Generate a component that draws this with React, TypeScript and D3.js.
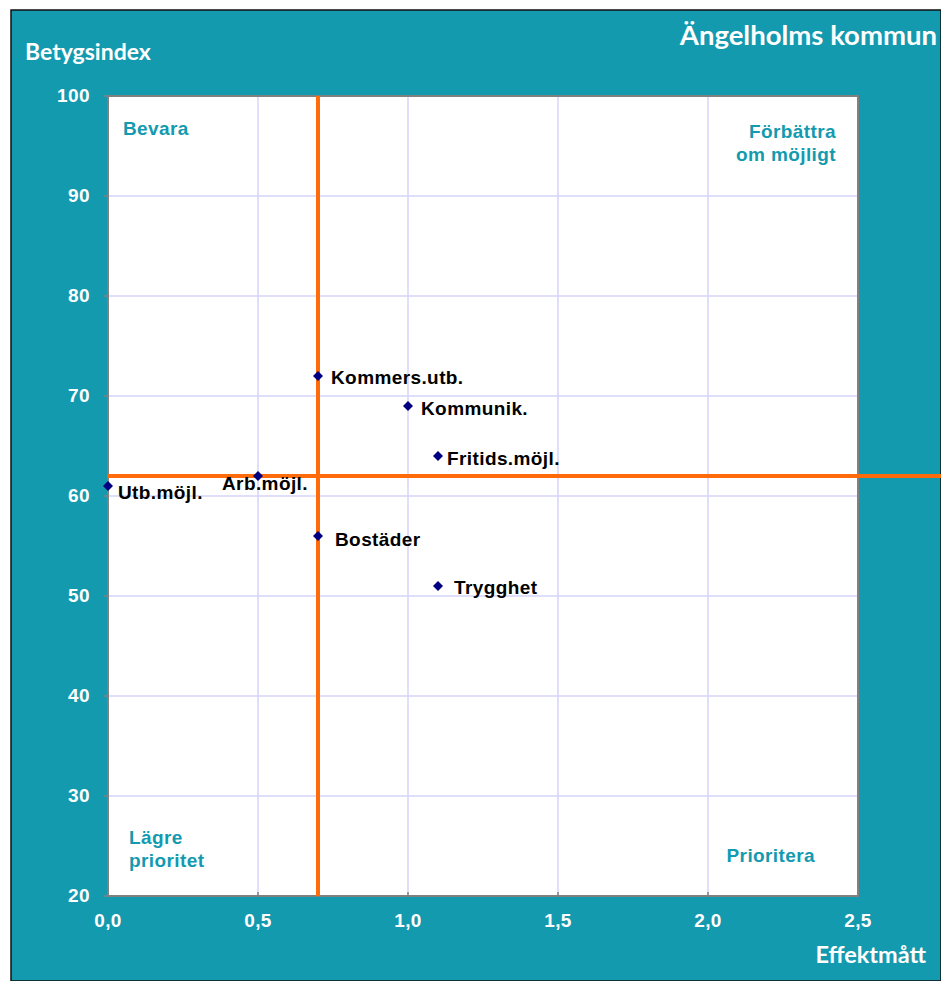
import React from 'react';
import * as d3 from 'd3';

// data
const areas = ['Kommers.utb.', 'Kommunik.', 'Fritids.möjl.', 'Utb.möjl.', 'Arb.möjl.', 'Bostäder', 'Trygghet'];
const effekt = [0.7, 1.0, 1.1, 0.0, 0.5, 0.7, 1.1];
const betyg = [72, 69, 64, 61, 62, 56, 51];
// label offsets: [dx, dy]
const labelPos: [number, number][] = [
  [13, 8],
  [13, 9],
  [9, 9],
  [10, 13],
  [-36, 14],
  [17, 10],
  [16, 8],
];
const xTicks = [0, 0.5, 1.0, 1.5, 2.0, 2.5];
const yTicks = [20, 30, 40, 50, 60, 70, 80, 90, 100];
const medianX = 0.7;
const medianY = 62;

const W = 941;
const H = 981;
const TEAL = '#139aaf';
const plot = { left: 108, right: 858, top: 96, bottom: 896 };

const App: React.FC = () => {
  const x = d3.scaleLinear().domain([0, 2.5]).range([plot.left, plot.right]);
  const y = d3.scaleLinear().domain([20, 100]).range([plot.bottom, plot.top]);
  const fmt = (v: number) => d3.format('.1f')(v).replace('.', ',');
  const diamond = d3.symbol().type(d3.symbolSquare).size(50)();
  const arial = 'Liberation Sans, Arial, sans-serif';
  const cal = 'Lato, Calibri, sans-serif';
  const fs = 19;
  const ls = 0.4;

  return (
    <svg width={W} height={H} style={{ position: 'absolute', left: 0, top: 0 }}>
      <rect x={11} y={10} width={W - 11} height={H - 10} fill={TEAL} stroke="#111" strokeWidth={1.5} />
      <rect x={plot.left} y={plot.top} width={plot.right - plot.left} height={plot.bottom - plot.top} fill="#fff" />

      {xTicks.slice(1, -1).map((t) => (
        <line key={'gx' + t} x1={x(t)} x2={x(t)} y1={plot.top} y2={plot.bottom} stroke="#d4d4fb" strokeWidth={1.5} />
      ))}
      {yTicks.slice(1, -1).map((t) => (
        <line key={'gy' + t} x1={plot.left} x2={plot.right} y1={y(t)} y2={y(t)} stroke="#d4d4fb" strokeWidth={1.5} />
      ))}
      <rect x={plot.left} y={plot.top} width={plot.right - plot.left} height={plot.bottom - plot.top} fill="none" stroke="#808080" strokeWidth={2} />
      {yTicks.map((t) => (
        <line key={'ty' + t} x1={plot.left - 4} x2={plot.left} y1={y(t)} y2={y(t)} stroke="#808080" strokeWidth={1.5} />
      ))}
      {xTicks.map((t) => (
        <line key={'tx' + t} x1={x(t)} x2={x(t)} y1={plot.bottom} y2={plot.bottom - 4} stroke="#808080" strokeWidth={1.5} />
      ))}

      {/* median lines */}
      <line x1={x(medianX)} x2={x(medianX)} y1={plot.top} y2={plot.bottom} stroke="#ff6a0a" strokeWidth={4} />
      <line x1={plot.left} x2={W} y1={y(medianY)} y2={y(medianY)} stroke="#ff6a0a" strokeWidth={4} />

      {yTicks.map((t) => (
        <text key={'ly' + t} x={90} y={y(t) + 5.5} textAnchor="end" fill="#fff" fontFamily={arial} fontWeight="bold" fontSize={fs} letterSpacing={ls}>
          {t}
        </text>
      ))}
      {xTicks.map((t) => (
        <text key={'lx' + t} x={x(t)} y={927} textAnchor="middle" fill="#fff" fontFamily={arial} fontWeight="bold" fontSize={fs} letterSpacing={ls}>
          {fmt(t)}
        </text>
      ))}

      {areas.map((a, i) => (
        <g key={a}>
          <path d={diamond!} transform={`translate(${x(effekt[i])},${y(betyg[i])}) rotate(45)`} fill="#000080" />
          <text
            x={x(effekt[i]) + labelPos[i][0]}
            y={y(betyg[i]) + labelPos[i][1]}
            fontFamily={arial}
            fontWeight="bold"
            fontSize={fs}
            letterSpacing={ls}
            fill="#000"
          >
            {a}
          </text>
        </g>
      ))}

      {/* quadrant labels */}
      <g fill={TEAL} fontFamily={arial} fontWeight="bold" fontSize={fs} letterSpacing={ls}>
        <text x={123} y={135}>Bevara</text>
        <text x={836} y={138} textAnchor="end">Förbättra</text>
        <text x={836} y={161} textAnchor="end">om möjligt</text>
        <text x={129} y={844}>Lägre</text>
        <text x={129} y={867}>prioritet</text>
        <text x={815} y={862} textAnchor="end">Prioritera</text>
      </g>

      <text x={25} y={60} fill="#fff" fontFamily={cal} fontWeight="bold" fontSize={23}>Betygsindex</text>
      <text x={937} y={45} textAnchor="end" fill="#fff" fontFamily={cal} fontWeight="bold" fontSize={27.5}>Ängelholms kommun</text>
      <text x={926} y={963} textAnchor="end" fill="#fff" fontFamily={cal} fontWeight="bold" fontSize={23.5}>Effektmått</text>
    </svg>
  );
};

export default App;
